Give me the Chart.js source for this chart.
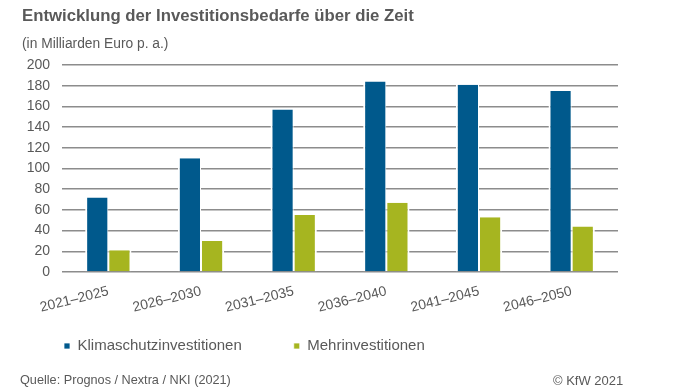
<!DOCTYPE html>
<html>
<head>
<meta charset="utf-8">
<script src="https://cdn.jsdelivr.net/npm/chart.js@4/dist/chart.umd.min.js"></script>
<style>
  body { margin: 0; background: #fff; font-family: "Liberation Sans", Arial, sans-serif; }
  #wrap { position: relative; width: 696px; height: 392px; overflow: hidden; }
  #chart { position: absolute; left: 0; top: 0; }
  .txt { position: absolute; color: #595959; white-space: nowrap; }
  #title { left: 22px; top: 6px; font-size: 16.75px; font-weight: bold; }
  #sub { left: 22px; top: 36px; font-size: 13.8px; }
  #src { left: 20px; top: 373px; font-size: 12.7px; }
  #copy { left: 553px; top: 373px; font-size: 13px; }
</style>
</head>
<body>
<div id="wrap">
  <canvas id="chart" width="696" height="392"></canvas>
  <div class="txt" id="title">Entwicklung der Investitionsbedarfe über die Zeit</div>
  <div class="txt" id="sub">(in Milliarden Euro p. a.)</div>
  <div class="txt" id="src">Quelle: Prognos / Nextra / NKI (2021)</div>
  <div class="txt" id="copy">© KfW 2021</div>
</div>
<script>
// ── data ──
const periods = ["2021–2025", "2026–2030", "2031–2035", "2036–2040", "2041–2045", "2046–2050"];
const klimaschutz = [72, 110, 157, 184, 181, 175];
const mehr = [21, 30, 55, 67, 53, 44];
const yTicks = [0, 20, 40, 60, 80, 100, 120, 140, 160, 180, 200];

const BLUE = "#00598c";
const GREEN = "#a6b520";
const GREY = "#595959";
const LEGEND_PAD = 52;
const LEGEND_TOP = 346 - 7.5 - LEGEND_PAD; // items sit LEGEND_PAD below the box top

// the legend padding is also the gap between items, so pull the box up afterwards
const legendShift = {
    id: "legendShift",
    afterLayout(chart) {
        const lg = chart.legend;
        if (!lg) return;
        const dy = LEGEND_TOP - lg.top;
        lg.top += dy;
        lg.bottom += dy;
    },
};

new Chart(document.getElementById("chart"), {
    type: "bar",
    data: {
        labels: periods,
        datasets: [
            { label: "Klimaschutzinvestitionen", data: klimaschutz, backgroundColor: BLUE,
              borderColor: "#ffffff", borderWidth: { left: 2, right: 1 }, borderSkipped: "bottom" },
            { label: "Mehrinvestitionen", data: mehr, backgroundColor: GREEN,
              borderColor: "#ffffff", borderWidth: { left: 1, right: 2 }, borderSkipped: "bottom" },
        ],
    },
    plugins: [legendShift],
    options: {
        responsive: false,
        animation: false,
        layout: { padding: { left: 12, right: 78, top: 65, bottom: 0 } },
        datasets: { bar: { categoryPercentage: 0.5, barPercentage: 1.0 } },
        plugins: {
            tooltip: { enabled: false },
            legend: {
                position: "bottom",
                align: "start",
                labels: {
                    boxWidth: 6, boxHeight: 6, padding: LEGEND_PAD,
                    color: GREY,
                    font: { family: "Liberation Sans", size: 15 },
                },
            },
        },
        scales: {
            x: {
                grid: { display: false },
                border: { display: false },
                afterFit: (axis) => { axis.height = 392 - 272 - (15 + LEGEND_PAD + 10); },
                ticks: {
                    color: GREY, minRotation: 14, maxRotation: 14, padding: 3,
                    font: { family: "Liberation Sans", size: 14 },
                },
            },
            y: {
                min: 0, max: 200,
                afterBuildTicks: (axis) => { axis.ticks = yTicks.map(v => ({ value: v })); },
                afterFit: (axis) => { axis.width = 50; },
                border: { display: false },
                grid: { color: "#8c8c8c", lineWidth: 1.6, drawTicks: false },
                ticks: {
                    color: GREY, padding: 12, autoSkip: false,
                    font: { family: "Liberation Sans", size: 14 },
                },
            },
        },
    },
});
</script>
</body>
</html>
